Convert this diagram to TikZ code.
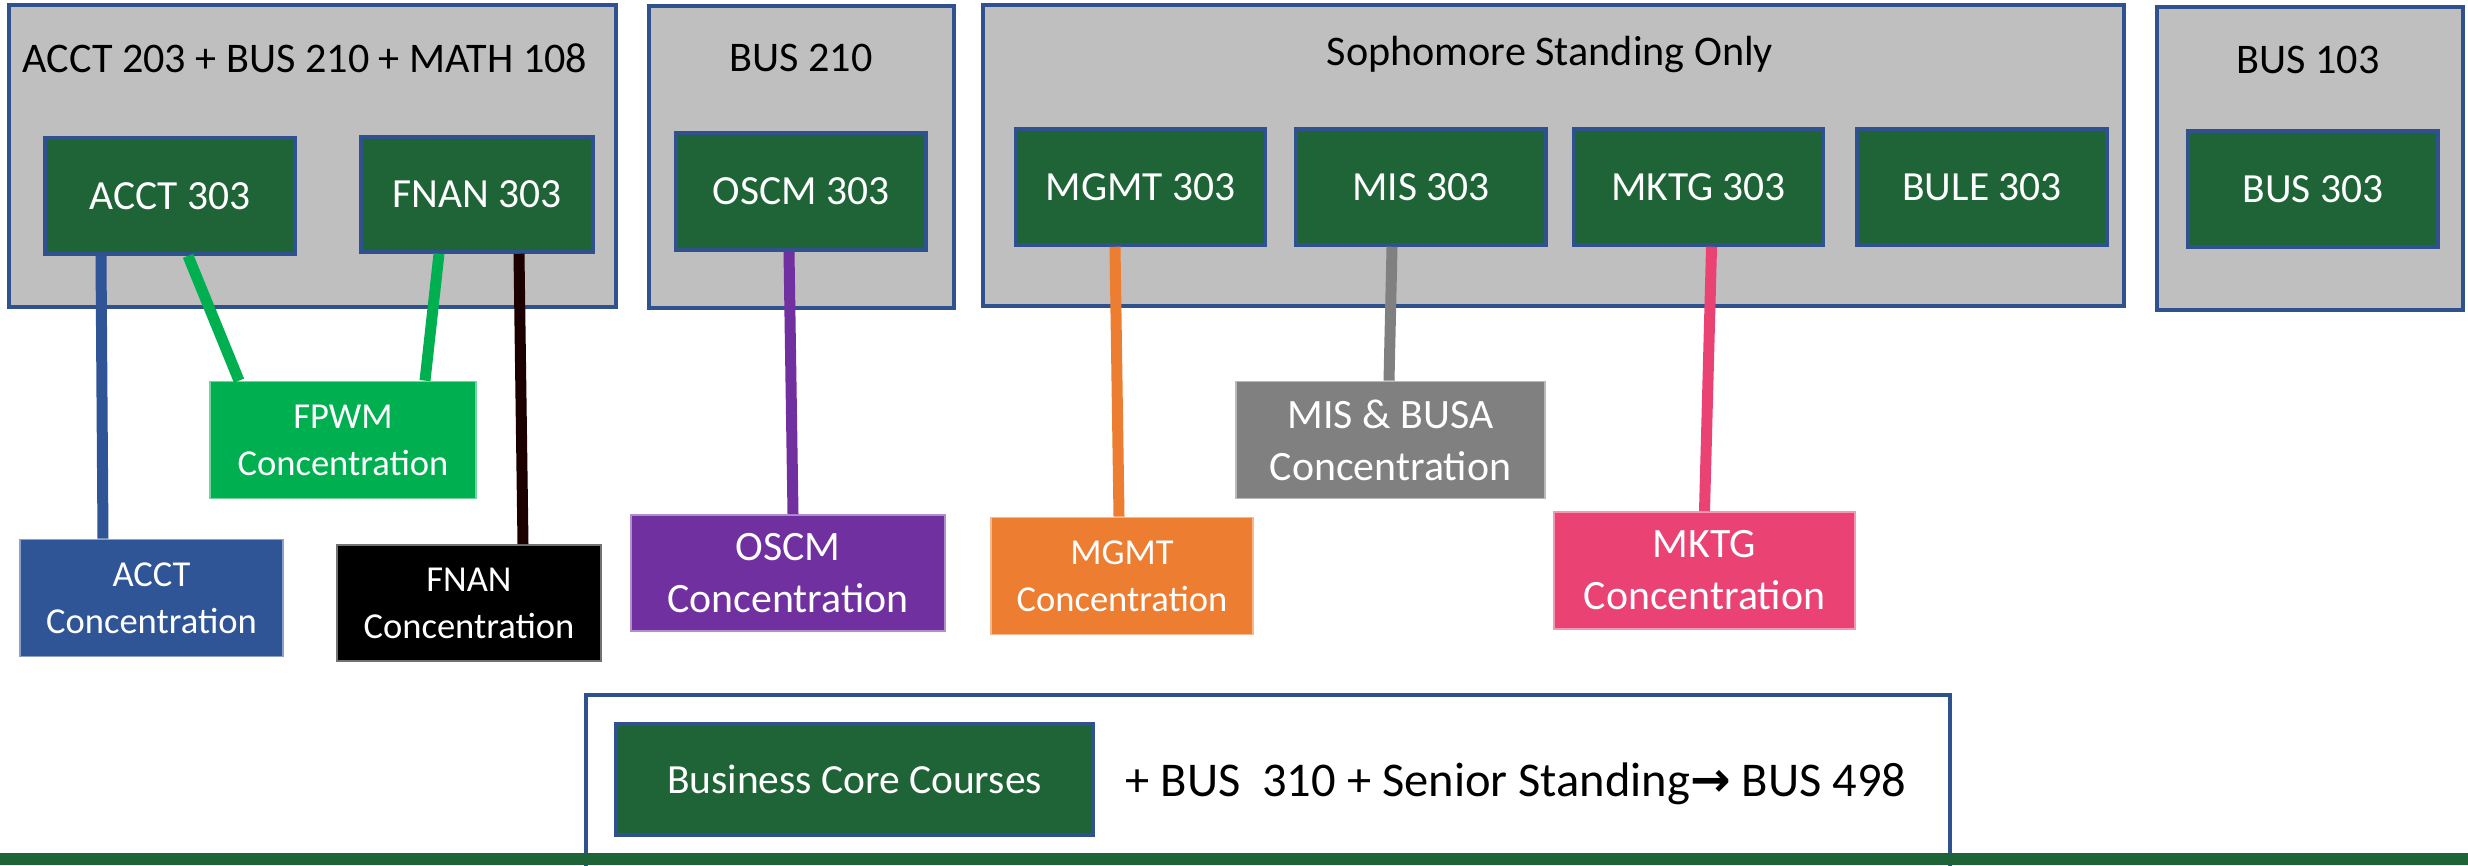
\documentclass[tikz,border=0pt]{standalone}
\usepackage{fontspec}
\setmainfont{Carlito}
\newfontfamily\arrowfont{DejaVu Sans}
\usetikzlibrary{positioning}
\definecolor{boxblue}{HTML}{2F528F}
\definecolor{groupgrey}{HTML}{BFBFBF}
\definecolor{coregreen}{HTML}{1F6437}
\definecolor{fpwmgreen}{HTML}{00B050}
\definecolor{acctblue}{HTML}{2F5597}
\definecolor{fnanblack}{HTML}{1C0000}
\definecolor{oscmpurple}{HTML}{7030A0}
\definecolor{mgmtorange}{HTML}{ED7D31}
\definecolor{misgrey}{HTML}{808080}
\definecolor{mktgpink}{HTML}{EB4274}

\begin{document}
\begin{tikzpicture}[line width=1pt,
					group node/.style={draw=boxblue,fill=groupgrey,inner sep=0pt},
					course node/.style={draw=boxblue,fill=coregreen,text=white,inner sep=0pt,minimum width=2.5cm,minimum height=1.16cm,font=\fontsize{11.8}{14}\selectfont},
					title text/.style={anchor=base,inner sep=0pt,font=\fontsize{12}{14}\selectfont},
					conc node/.style={draw=#1!55!white,fill=#1,line width=0.5pt,text=white,inner sep=0pt,minimum height=1.17cm,align=center,font=\fontsize{10.4}{13.4}\selectfont},
					big conc/.style={font=\fontsize{11.9}{14.8}\selectfont},
					link/.style={draw=#1,line width=0.11cm}]
				\useasboundingbox (0,0) rectangle (24.68,-8.65);
				\clip (0,0) rectangle (24.68,-8.65);

				\node[group node,minimum width=6.07cm,minimum height=3.02cm] (prereqA) at (3.125,-1.56) {};
				\node[group node,minimum width=3.05cm,minimum height=3.02cm] (prereqB) at (8.015,-1.57) {};
				\node[group node,minimum width=11.41cm,minimum height=3.01cm] (soph) at (15.535,-1.555) {};
				\node[group node,minimum width=3.06cm,minimum height=3.03cm] (prereqC) at (23.10,-1.585) {};

				\node[title text] (titleA) at (3.05,-0.72) {ACCT 203 + BUS 210 + MATH 108};
				\node[title text] (titleB) at (8.01,-0.71) {BUS 210};
				\node[title text] (titleS) at (15.50,-0.65) {Sophomore Standing Only};
				\node[title text] (titleC) at (23.08,-0.73) {BUS 103};

				\node[course node] (acct303) at (1.70,-1.96) {ACCT 303};
				\node[course node,minimum width=2.32cm,minimum height=1.15cm] (fnan303) at (4.77,-1.945) {FNAN 303};
				\node[course node,minimum height=1.17cm] (oscm303) at (8.01,-1.915) {OSCM 303};
				\node[course node] (mgmt303) at (11.405,-1.87) {MGMT 303};
				\node[course node,right=0.27cm of mgmt303] (mis303) {MIS 303};
				\node[course node,right=0.24cm of mis303] (mktg303) {MKTG 303};
				\node[course node,right=0.30cm of mktg303] (bule303) {BULE 303};
				\node[course node] (bus303) at (23.13,-1.89) {BUS 303};

				\node[conc node=fpwmgreen,minimum width=2.66cm] (fpwm) at (3.43,-4.40) {FPWM\\Concentration};
				\node[conc node=acctblue,minimum width=2.63cm] (acctconc) at (1.515,-5.98) {ACCT\\Concentration};
				\node[conc node=black,minimum width=2.64cm,minimum height=1.16cm] (fnanconc) at (4.69,-6.03) {FNAN\\Concentration};
				\node[conc node=oscmpurple,big conc,minimum width=3.14cm,minimum height=1.16cm] (oscmconc) at (7.88,-5.73) {OSCM\\Concentration};
				\node[conc node=mgmtorange,minimum width=2.62cm] (mgmtconc) at (11.22,-5.76) {MGMT\\Concentration};
				\node[conc node=misgrey,big conc,minimum width=3.09cm] (misconc) at (13.905,-4.40) {MIS \& BUSA\\Concentration};
				\node[conc node=mktgpink,big conc,minimum width=3.01cm] (mktgconc) at (17.045,-5.705) {MKTG\\Concentration};

				\path
				([xshift=-0.69cm]acct303.south) edge[link=acctblue] ([xshift=-0.485cm]acctconc.north)
				([xshift=0.18cm]acct303.south) edge[link=fpwmgreen] ([xshift=-1.04cm]fpwm.north)
				([xshift=-0.38cm]fnan303.south) edge[link=fpwmgreen] ([xshift=0.82cm]fpwm.north)
				([xshift=0.42cm]fnan303.south) edge[link=fnanblack] ([xshift=0.54cm]fnanconc.north)
				([xshift=-0.12cm]oscm303.south) edge[link=oscmpurple] ([xshift=0.05cm]oscmconc.north)
				([xshift=-0.255cm]mgmt303.south) edge[link=mgmtorange] ([xshift=-0.03cm]mgmtconc.north)
				([xshift=-0.29cm]mis303.south) edge[link=misgrey] ([xshift=-0.015cm]misconc.north)
				([xshift=0.13cm]mktg303.south) edge[link=mktgpink] (mktgconc.north);

				\node[draw=boxblue,fill=white,anchor=north west,inner sep=0pt,minimum width=13.64cm,minimum height=2.2cm] (corebox) at (5.84,-6.93) {};
				\node[course node,minimum width=4.77cm,minimum height=1.11cm] (core) at (8.545,-7.795) {Business Core Courses};
				\node[right=0.29cm of core,yshift=-0.04cm,inner sep=0pt,font=\fontsize{13.8}{16}\selectfont] (capstone) {+ BUS\ \ 310 + Senior Standing{\arrowfont\bfseries →} BUS 498};
				\fill[coregreen] (0,-8.53) rectangle (24.68,-8.65);
			\end{tikzpicture}
\end{document}
